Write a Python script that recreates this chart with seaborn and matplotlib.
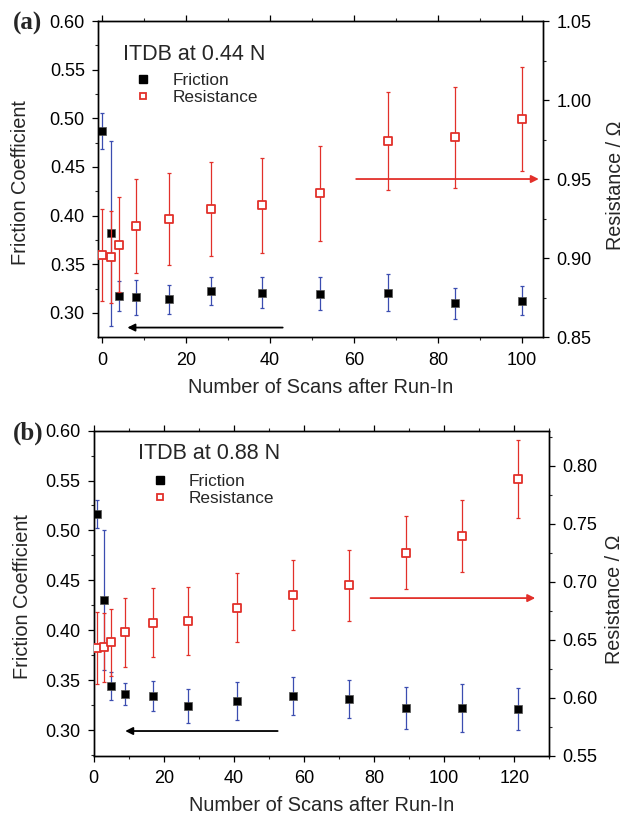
import pandas as pd
import seaborn as sns
import matplotlib.pyplot as plt
from matplotlib.lines import Line2D
from matplotlib.ticker import MultipleLocator

# ---- panel (a): ITDB at 0.44 N
scans_a = [0, 2, 4, 8, 16, 26, 38, 52, 68, 84, 100]
friction_a = [0.487, 0.382, 0.3175, 0.316, 0.314, 0.3226, 0.321, 0.3196, 0.321, 0.310, 0.3124]
friction_err_a = [0.018, 0.095, 0.015, 0.018, 0.015, 0.014, 0.016, 0.017, 0.019, 0.016, 0.015]
resist_a = [0.902, 0.9006, 0.9084, 0.9203, 0.9245, 0.931, 0.9333, 0.9409, 0.974, 0.9764, 0.9882]
resist_err_a = [0.029, 0.029, 0.030, 0.030, 0.029, 0.030, 0.030, 0.030, 0.031, 0.032, 0.033]

# ---- panel (b): ITDB at 0.88 N
scans_b = [1, 3, 5, 9, 17, 27, 41, 57, 73, 89, 105, 121]
friction_b = [0.5165, 0.430, 0.3438, 0.3361, 0.3338, 0.3241, 0.3288, 0.334, 0.3308, 0.3218, 0.3218, 0.3208]
friction_err_b = [0.014, 0.070, 0.014, 0.011, 0.015, 0.017, 0.019, 0.019, 0.019, 0.021, 0.024, 0.021]
resist_b = [0.6432, 0.6435, 0.6478, 0.6564, 0.6648, 0.6662, 0.6777, 0.6887, 0.697, 0.7252, 0.7396, 0.7891]
resist_err_b = [0.031, 0.030, 0.029, 0.030, 0.030, 0.029, 0.030, 0.030, 0.0305, 0.0316, 0.0314, 0.0336]

RED = "#e2302a"
BLUE = "#3b4db0"

sns.set_style("ticks")
plt.rcParams['font.family'] = ['Liberation Sans', 'DejaVu Sans']
plt.rcParams['xtick.direction'] = 'out'
plt.rcParams['ytick.direction'] = 'out'


def panel(fig, rect, tag, title, scans, fric, fric_err, res, res_err,
          xlim, ylim_l, ylim_r, res_step, black_arrow, red_arrow, lay):
    df = pd.DataFrame({"scans": scans, "friction": fric, "friction_err": fric_err,
                       "resistance": res, "resistance_err": res_err})
    ax = fig.add_axes(rect)
    ax2 = ax.twinx()

    ax.errorbar(df["scans"], df["friction"], yerr=df["friction_err"], fmt="none",
                ecolor=BLUE, elinewidth=0.9, capsize=1.6, capthick=0.9, zorder=2)
    sns.scatterplot(data=df, x="scans", y="friction", ax=ax, marker="s", s=40,
                    color="black", edgecolor="#555555", linewidth=0.5, zorder=3)

    ax2.errorbar(df["scans"], df["resistance"], yerr=df["resistance_err"], fmt="none",
                 ecolor=RED, elinewidth=0.9, capsize=1.6, capthick=0.9, zorder=2)
    sns.scatterplot(data=df, x="scans", y="resistance", ax=ax2, marker="s", s=26,
                    facecolor="white", edgecolor=RED, linewidth=1.3, zorder=3)

    ax.set_xlim(*xlim)
    ax.set_ylim(*ylim_l)
    ax2.set_ylim(*ylim_r)
    ax.xaxis.set_major_locator(MultipleLocator(20))
    ax.xaxis.set_minor_locator(MultipleLocator(10))
    ax.yaxis.set_major_locator(MultipleLocator(0.05))
    ax.yaxis.set_minor_locator(MultipleLocator(0.025))
    ax2.yaxis.set_major_locator(MultipleLocator(res_step))
    ax2.yaxis.set_minor_locator(MultipleLocator(res_step / 2))
    ax.yaxis.set_major_formatter(plt.FormatStrFormatter("%.2f"))
    ax2.yaxis.set_major_formatter(plt.FormatStrFormatter("%.2f"))

    for a in (ax, ax2):
        for sp in a.spines.values():
            sp.set_visible(True)
            sp.set_linewidth(1.0)
            sp.set_color("black")
        a.tick_params(which="major", length=4, width=0.9, labelsize=13, colors="black")
        a.tick_params(which="minor", length=2.2, width=0.8)
        a.tick_params(axis="y", which="major", pad=5.5)
    ax.tick_params(axis="x", which="major", pad=6.5)
    ax.tick_params(axis="x", which="both", top=True)
    ax.tick_params(axis="y", which="both", right=False)

    ax.set_xlabel("Number of Scans after Run-In", fontsize=14.4)
    ax.set_ylabel("Friction Coefficient", fontsize=14.4)
    ax2.set_ylabel("Resistance / \u03a9", fontsize=14.2)
    ax.xaxis.set_label_coords(0.5, lay["xlab"])
    ax.yaxis.set_label_coords(lay["ylab"], 0.49)
    ax2.yaxis.set_label_coords(lay["rlab"], 0.48)

    ax.annotate("", xy=(black_arrow[1], black_arrow[2]), xytext=(black_arrow[0], black_arrow[2]),
                arrowprops=dict(arrowstyle="-|>", color="black", lw=1.3,
                                mutation_scale=11, shrinkA=0, shrinkB=0))
    ax2.annotate("", xy=(red_arrow[1], red_arrow[2]), xytext=(red_arrow[0], red_arrow[2]),
                 arrowprops=dict(arrowstyle="-|>", color=RED, lw=1.3,
                                 mutation_scale=11, shrinkA=0, shrinkB=0))

    ax.text(lay["title"][0], lay["title"][1], title, transform=ax.transAxes,
            fontsize=15.5, va="center", ha="left")
    handles = [Line2D([], [], ls="none", marker="s", ms=6, color="black"),
               Line2D([], [], ls="none", marker="s", ms=5, mfc="white", mec=RED, mew=1.3)]
    ax2.legend(handles, ["Friction", "Resistance"], loc="upper left",
               bbox_to_anchor=lay["leg"], frameon=False, fontsize=12.4,
               handlelength=1.0, handletextpad=lay["pad"], labelspacing=0.1,
               borderpad=0, borderaxespad=0)

    fig.text(13 / 627, lay["tag_y"], tag, fontsize=18, fontweight="bold",
             family="Liberation Serif", va="center", ha="left")
    return ax


fig = plt.figure(figsize=(6.27, 8.15), dpi=100)

panel(fig, [0.1563, 0.5865, 0.7097, 0.3877], "(a)", "ITDB at 0.44 N",
      scans_a, friction_a, friction_err_a, resist_a, resist_err_a,
      (-1, 105), (0.2753, 0.60), (0.85, 1.05), 0.05,
      (43, 6, 0.285), (60.5, 104, 0.95),
      dict(xlab=-0.131, ylab=-0.153, rlab=1.141, title=(0.056, 0.893),
           leg=(0.082, 0.835), pad=1.2, tag_y=1 - 23 / 815))

panel(fig, [0.1494, 0.0728, 0.7266, 0.3988], "(b)", "ITDB at 0.88 N",
      scans_b, friction_b, friction_err_b, resist_b, resist_err_b,
      (0, 130), (0.2743, 0.60), (0.55, 0.8305), 0.05,
      (52.5, 9, 0.299), (79, 126, 0.686),
      dict(xlab=-0.1255, ylab=-0.135, rlab=1.123, title=(0.097, 0.931),
           leg=(0.127, 0.867), pad=1.13, tag_y=1 - 433 / 815))

plt.savefig("out.png", dpi=100)
